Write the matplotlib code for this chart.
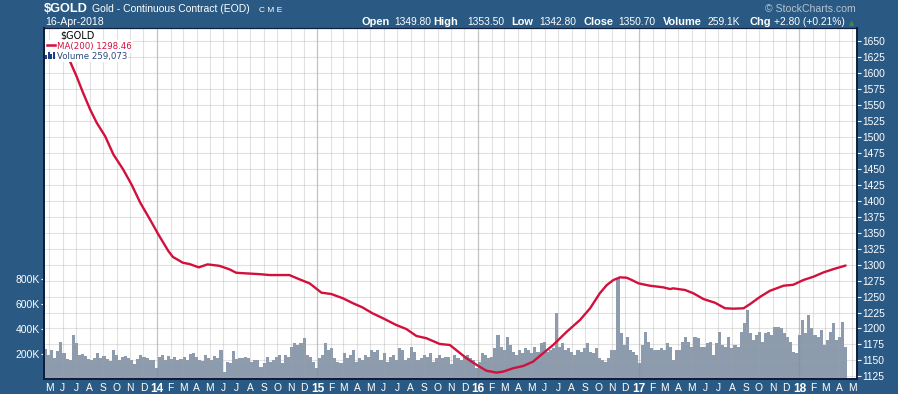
import numpy as np
import pandas as pd
import matplotlib
matplotlib.use("Agg")
import matplotlib.pyplot as plt
import matplotlib.dates as mdates
from matplotlib.patches import Rectangle
from matplotlib.lines import Line2D

# 200-day moving average
ma_dates = ["2013-05-31", "2013-06-17", "2013-07-02", "2013-07-17", "2013-08-02", "2013-08-17",
            "2013-09-05", "2013-09-24", "2013-10-16", "2013-11-04", "2013-11-24", "2013-12-16",
            "2014-01-04", "2014-01-27", "2014-02-06", "2014-03-01", "2014-03-16", "2014-04-06",
            "2014-04-26", "2014-05-23", "2014-06-15", "2014-06-30", "2014-07-23", "2014-08-22",
            "2014-09-14", "2014-10-29", "2014-11-21", "2014-12-14", "2015-01-10", "2015-02-01",
            "2015-02-28", "2015-03-23", "2015-04-13", "2015-05-06", "2015-05-30", "2015-06-29",
            "2015-07-22", "2015-08-14", "2015-09-06", "2015-10-06", "2015-10-29", "2015-11-17",
            "2015-12-06", "2015-12-29", "2016-01-20", "2016-02-12", "2016-02-27", "2016-03-21",
            "2016-04-13", "2016-05-05", "2016-05-28", "2016-06-20", "2016-07-21", "2016-08-20",
            "2016-09-12", "2016-10-04", "2016-10-20", "2016-11-04", "2016-11-19", "2016-12-04",
            "2016-12-16", "2016-12-31", "2017-01-26", "2017-02-25", "2017-03-13", "2017-03-20",
            "2017-04-16", "2017-05-05", "2017-05-28", "2017-06-23", "2017-07-16", "2017-08-04",
            "2017-08-27", "2017-09-11", "2017-10-04", "2017-10-26", "2017-11-26", "2017-12-18",
            "2018-01-10", "2018-02-02", "2018-02-25", "2018-03-20", "2018-04-16"]
ma_vals = [1645, 1618, 1594.5, 1568.4, 1542.5, 1521.6, 1500.8, 1472, 1448.8, 1425.3, 1396.6, 1370.6,
           1347.2, 1321, 1312, 1302.8, 1300.8, 1295.6, 1300.3, 1298, 1292.5, 1287.2, 1286.2, 1285,
           1283.6, 1283.6, 1276.9, 1270.6, 1256, 1254, 1247.2, 1239.4, 1233.1, 1223.8, 1216, 1205.5,
           1199.2, 1188.3, 1184.7, 1175.8, 1174.2, 1163.8, 1153.4, 1143, 1134, 1131, 1132.5, 1137.8,
           1141.4, 1148, 1161.2, 1174.2, 1195, 1213.3, 1231.6, 1255, 1268, 1275.8, 1280, 1279.4,
           1275.8, 1270.6, 1266.9, 1264.4, 1261.7, 1262.8, 1260.2, 1255, 1246, 1240.3, 1231.6, 1231,
           1231.6, 1238.3, 1249.7, 1259, 1266.9, 1268.4, 1275.8, 1281, 1287.8, 1293, 1298.46]

# weekly volume (thousands), one value per week starting 19-Apr-2013
vol_start = "2013-04-19"
vol_k = [238, 195, 230, 170, 225, 300, 210, 160, 150, 350, 290, 190, 200, 185, 160, 150, 170, 205, 165, 185,
         160, 145, 235, 190, 150, 175, 185, 170, 155, 120, 160, 190, 175, 165, 150, 150, 85, 175, 195, 150,
         185, 160, 175, 150, 160, 175, 150, 200, 205, 180, 150, 145, 190, 165, 150, 185, 165, 230, 60, 140,
         130, 225, 160, 165, 170,
         180, 166, 140, 152, 152, 100, 126, 180, 140, 152, 180, 193, 126, 193, 180, 260, 286, 273, 286, 326,
         193, 180, 140, 90, 166, 193, 286, 233, 246, 166, 140, 126, 206, 166, 193, 233, 140, 166, 152, 193,
         180, 233, 219, 233, 152, 206, 140, 180, 193, 152, 246, 233, 152, 166, 260, 219, 152, 166, 193, 180,
         206, 140, 166, 193, 166,
         180, 180, 120, 193, 166, 152, 180, 193, 166, 152, 86, 140, 206, 193, 166, 180, 246, 353, 260, 233,
         340, 273, 219, 193, 233, 206, 246, 233, 206, 260, 219, 286, 300, 219, 233, 246, 527, 260, 286, 233,
         246, 219, 193, 233, 219, 246, 286, 219, 206, 246, 166, 152, 140, 166, 233, 233, 810, 366, 273, 340,
         233, 219, 193, 126, 273,
         380, 300, 246, 233, 233, 246, 233, 286, 260, 152, 233, 233, 300, 340, 300, 260, 340, 326, 260, 260,
         286, 300, 193, 286, 380, 273, 260, 340, 246, 273, 260, 380, 447, 554, 366, 313, 353, 380, 300, 366,
         380, 353, 420, 420, 406, 366, 340, 300, 219, 206, 353, 473, 366, 514, 406, 353, 340, 393, 273, 313,
         380, 447, 313, 340, 460, 260]

price_ticks = list(range(1125, 1651, 25))
vol_ticks = [200000, 400000, 600000, 800000]
vol_labels = ["200K", "400K", "600K", "800K"]

W, H = 898, 394
BG = "#2a5a83"
RED = "#d2103c"
VOLC = "#8c9cae"
NAVY = "#0e1e3c"

def fx(x):
    return x / W

def fy(y):
    return 1 - y / H

fig = plt.figure(figsize=(W / 100, H / 100), dpi=100, facecolor=BG)
L, R, T, B = 44, 857, 28, 379
axv = fig.add_axes([fx(L), fy(B), (R - L) / W, (B - T) / H])
axv.set_facecolor("white")

vx = mdates.date2num(pd.date_range(vol_start, periods=len(vol_k), freq="7D"))
axv.bar(vx, np.array(vol_k) * 1000, width=7, align="edge", color=VOLC, linewidth=0)
axv.set_ylim(0, 2815000)
axv.set_yticks(vol_ticks)
axv.set_yticklabels(vol_labels)
axv.tick_params(axis="y", colors="white", labelsize=7.5, length=2, pad=1, width=0.8)

x0 = mdates.date2num(pd.Timestamp("2013-04-19"))
x1 = mdates.date2num(pd.Timestamp("2018-05-12"))
axv.set_xlim(x0, x1)

months = pd.date_range("2013-05-01", "2018-05-01", freq="MS")
mlabels = [f"{m.year % 100:02d}" if m.month == 1 else "JFMAMJJASOND"[m.month - 1] for m in months]
axv.set_xticks(mdates.date2num(months))
axv.set_xticklabels(mlabels)
axv.tick_params(axis="x", colors="white", labelsize=7.4, length=0, pad=3)
for lab, m in zip(axv.get_xticklabels(), months):
    if m.month == 1:
        lab.set_fontweight("bold")
        lab.set_fontsize(8.6)

axp = axv.twinx()
axp.set_ylim(1121, 1670)
axp.set_yticks(price_ticks)
axp.tick_params(axis="y", colors="white", labelsize=7.4, length=3, pad=1, width=0.8)

# grid drawn over the volume bars, under the MA line
for m in months:
    yr = m.month == 1
    axp.axvline(mdates.date2num(m), color="#8a8a8a" if yr else "#a0a0a0",
                alpha=0.5 if yr else 0.3, lw=0.9 if yr else 0.8, zorder=1)
for p in price_ticks:
    axp.axhline(p, color="#a0a0a0", alpha=0.3, lw=0.8, zorder=1)

axp.plot(mdates.date2num(pd.to_datetime(ma_dates)), ma_vals, color=RED, lw=1.7,
         solid_capstyle="round", zorder=3)

for a in (axv, axp):
    for s in ("left", "bottom", "top"):
        a.spines[s].set_color(NAVY)
    a.spines["left"].set_linewidth(1.4)
    a.spines["bottom"].set_linewidth(1.4)
    a.spines["top"].set_linewidth(0.8)
    a.spines["right"].set_color(NAVY)
    a.spines["right"].set_linewidth(1.2)
    a.spines["right"].set_linestyle((0, (1, 1)))

for lab in axv.get_yticklabels() + axp.get_yticklabels() + axv.get_xticklabels():
    lab.set_family("Liberation Sans")

# header
fig.text(fx(44), fy(12.5), "$GOLD", color="white", fontsize=9.2, fontweight="bold",
         family="Liberation Sans", va="baseline")
fig.text(fx(92), fy(12.5), "Gold - Continuous Contract (EOD)", color="white", fontsize=7.5,
         family="Liberation Sans", va="baseline")
fig.text(fx(259), fy(12.5), "C M E", color="white", fontsize=6.0,
         family="Liberation Sans", va="baseline")
fig.text(fx(45), fy(25), "16-Apr-2018", color="white", fontsize=7.6,
         family="Liberation Sans", va="baseline")
fig.text(fx(856), fy(12), "\u00a9 StockCharts.com", color="#b4c2d0", fontsize=7.6,
         family="Liberation Sans", va="baseline", ha="right")

pieces = [("Open", True, 362), ("1349.80", False, 394), ("High", True, 433), ("1353.50", False, 467),
          ("Low", True, 511), ("1342.80", False, 539), ("Close", True, 583), ("1350.70", False, 618),
          ("Volume", True, 663), ("259.1K", False, 708), ("Chg", True, 749), ("+2.80 (+0.21%)", False, 774)]
for txt, bold, xp in pieces:
    fig.text(fx(xp), fy(25), txt, color="white", fontsize=7.9 if bold else 7.4,
             fontweight="bold" if bold else "normal", family="Liberation Sans", va="baseline")
fig.text(fx(849), fy(25), "\u25b2", color="#3d8f3d", fontsize=5, family="DejaVu Sans", va="baseline")

# legend
box = dict(facecolor="white", edgecolor="none", pad=0.6)
fig.text(fx(60), fy(38), "$GOLD", color="black", fontsize=7.0, family="DejaVu Sans",
         va="baseline", bbox=box)
fig.text(fx(57), fy(49), "MA(200) 1298.46", color=RED, fontsize=6.2, family="DejaVu Sans",
         va="baseline", bbox=dict(facecolor="white", edgecolor="none", pad=1.2))
fig.text(fx(57), fy(59.5), "Volume 259,073", color="#2b4a7c", fontsize=6.2, family="DejaVu Sans",
         va="baseline", bbox=box)
fig.add_artist(Rectangle((fx(45), fy(50)), 12 / W, 10 / H, facecolor="white",
                         edgecolor="none", transform=fig.transFigure, zorder=4))
fig.add_artist(Line2D([fx(47), fx(55)], [fy(45), fy(45)], color=RED, lw=1.8,
                      transform=fig.transFigure, zorder=5))
for bx, bh in [(45, 4), (47.5, 7), (50, 5), (52.5, 7)]:
    fig.add_artist(Rectangle((fx(bx), fy(59)), 2 / W, bh / H, facecolor="#1c3f8c",
                             edgecolor="none", transform=fig.transFigure, zorder=5))

fig.savefig("out.png", dpi=100, facecolor=BG)
